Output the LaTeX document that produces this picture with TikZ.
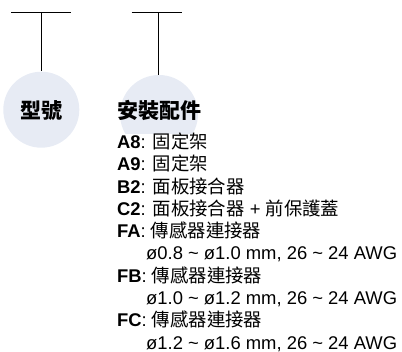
\documentclass[tikz,border=0pt]{standalone}
\usepackage{fontspec}
\setmainfont{Liberation Sans}
\newfontfamily\cjk{Noto Sans CJK TC}
\definecolor{bubblefill}{HTML}{E7EBF4}
\begin{document}
\begin{tikzpicture}[x=1pt,y=-1pt,
  bubble/.style={circle,fill=bubblefill,inner sep=0pt,minimum size=#1},
  head/.style={font=\fontsize{21}{21}\selectfont\cjk\bfseries, inner sep=0pt},
  item/.style={font=\fontsize{18.4}{22}\selectfont, anchor=base west, inner sep=0pt},
  bar/.style={line width=1pt}]
\useasboundingbox (0,0) rectangle (402,352);
% bubbles
\node[bubble=76pt] (c1) at (41.3,109.7) {};
\node[bubble=78pt] (c2) at (159,114) {};
% white text panel covering the lower part of the second bubble
\fill[white] (112,134) rectangle (402,352);
% T connectors
\coordinate (a1) at (11,12.3);
\coordinate (b1) at (71,12.3);
\coordinate (m1) at (41.3,12.3);
\coordinate (a2) at (131.7,12.3);
\coordinate (b2) at (181.7,12.3);
\coordinate (m2) at (158.3,12.3);
\draw[bar] (a1) -- (b1);
\draw[bar] (m1) -- (m1 |- c1.north);
\draw[bar] (a2) -- (b2);
\draw[bar] (m2) -- (m2 |- c2.north);
% headings
\node[head, anchor=base] (h1) at (41.3,119) {型號};
\node[head, anchor=base west] (h2) at (117,119) {安裝配件};
% items
\node[item] (l1) at (117,148.5) {\textbf{A8}: {\cjk 固定架}};
\node[item] (l2) at (117,170.8) {\textbf{A9}: {\cjk 固定架}};
\node[item] (l3) at (117,193.1) {\textbf{B2}: {\cjk 面板接合器}};
\node[item] (l4) at (117,215.4) {\textbf{C2}: {\cjk 面板接合器} + {\cjk 前保護蓋}};
\node[item] (l5) at (117,237.7) {\textbf{FA}: {\cjk 傳感器連接器}};
\node[item] (l6) at (146,260.0) {ø0.8 \textasciitilde{} ø1.0 mm, 26 \textasciitilde{} 24 AWG};
\node[item] (l7) at (117,282.3) {\textbf{FB}: {\cjk 傳感器連接器}};
\node[item] (l8) at (146,304.6) {ø1.0 \textasciitilde{} ø1.2 mm, 26 \textasciitilde{} 24 AWG};
\node[item] (l9) at (117,326.9) {\textbf{FC}: {\cjk 傳感器連接器}};
\node[item] (l10) at (146,349.2) {ø1.2 \textasciitilde{} ø1.6 mm, 26 \textasciitilde{} 24 AWG};
\end{tikzpicture}
\end{document}
